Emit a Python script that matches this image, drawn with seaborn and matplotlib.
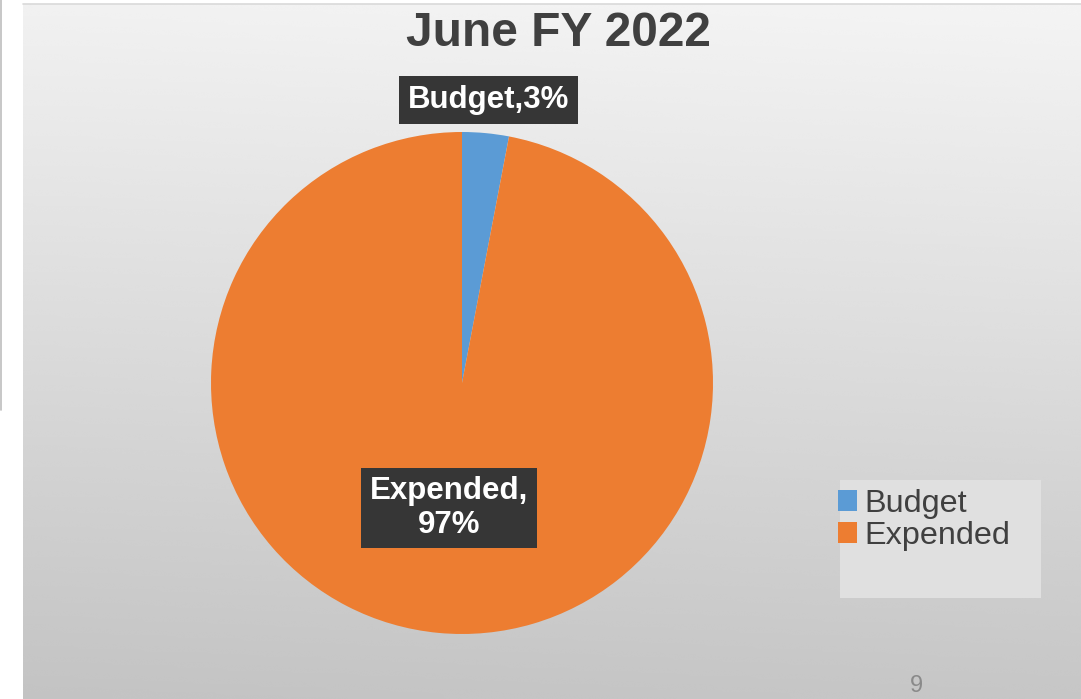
import numpy as np
import matplotlib
matplotlib.use("Agg")
import matplotlib.pyplot as plt
from matplotlib.patches import Patch, Rectangle
from matplotlib.lines import Line2D
import seaborn as sns

# Data
categories = ["Budget", "Expended"]
shares = [3, 97]
colors = ["#5B9BD5", "#ED7D31"]
title = "June FY 2022"
page_number = "9"

sns.set_theme(style="white")
plt.rcParams["font.family"] = ["Liberation Sans", "DejaVu Sans"]

W, H = 1081, 699
fig = plt.figure(figsize=(W / 100, H / 100), dpi=100)
fig.patch.set_facecolor("white")

def fx(px):
    return px / W

def fy(py):
    return 1 - py / H

# Slide background with vertical gray gradient
bg = fig.add_axes([fx(23), 0, fx(W - 23), (H - 4) / H])
grad = np.linspace(0.945, 0.765, 256).reshape(-1, 1)
xs = np.linspace(0.0, 0.012, 64).reshape(1, -1)
bg.imshow(np.clip(grad + xs, 0, 1), cmap="gray", vmin=0, vmax=1,
          aspect="auto", extent=[0, 1, 0, 1], origin="upper",
          interpolation="bicubic")
bg.set_axis_off()

# thin frame lines of the slide
fig.add_artist(Line2D([fx(0.5), fx(0.5)], [fy(0), fy(410)], color="#bdbdbd", lw=1.2))
fig.add_artist(Line2D([fx(23), 1], [fy(4), fy(4)], color="#d9d9d9", lw=1.2))

# Pie chart
cx, cy, r = 462, 383, 251
ax = fig.add_axes([fx(cx - r), fy(cy + r), 2 * r / W, 2 * r / H])
wedges, _ = ax.pie(shares, colors=colors, startangle=90, counterclock=False,
                   radius=1.0, wedgeprops=dict(linewidth=0))
ax.set_xlim(-1, 1)
ax.set_ylim(-1, 1)
ax.set_aspect("equal")
ax.set_axis_off()
ax.patch.set_alpha(0)

# Data labels
box = dict(boxstyle="square,pad=0.28", facecolor="#363636", edgecolor="none")
label_pos = {"Budget": (0.104, 1.127), "Expended": (-0.052, -0.498)}
label_text = {
    "Budget": f"{categories[0]},{shares[0]}%",
    "Expended": f"{categories[1]},\n{shares[1]}%",
}
for cat in categories:
    x, y = label_pos[cat]
    ax.text(x, y, label_text[cat], ha="center", va="center", fontsize=22.5,
            fontweight="bold", color="white", bbox=box, linespacing=1.15,
            clip_on=False, zorder=5)

# Title
fig.text(fx(558), fy(33), title, ha="center", va="center", fontsize=34.5,
         fontweight="bold", color="#404040")

# Legend panel
fig.add_artist(Rectangle((fx(840), fy(598)), fx(1041 - 840), (598 - 480) / H,
                         transform=fig.transFigure, facecolor="#e0e0e0",
                         edgecolor="none", zorder=1))
handles = [Patch(facecolor=c, edgecolor="none") for c in colors]
leg = fig.legend(handles, categories, loc="upper left",
                 bbox_to_anchor=(fx(838), fy(489)), frameon=False,
                 fontsize=23.3, handlelength=0.6, handleheight=0.6,
                 handletextpad=0.2, labelspacing=0.06, borderpad=0,
                 borderaxespad=0)
for t in leg.get_texts():
    t.set_color("#404040")
leg.set_zorder(3)

# Page number
fig.text(fx(916), fy(686), page_number, ha="center", va="center",
         fontsize=17, color="#8a8a8a")

fig.savefig("out.png", dpi=100)
